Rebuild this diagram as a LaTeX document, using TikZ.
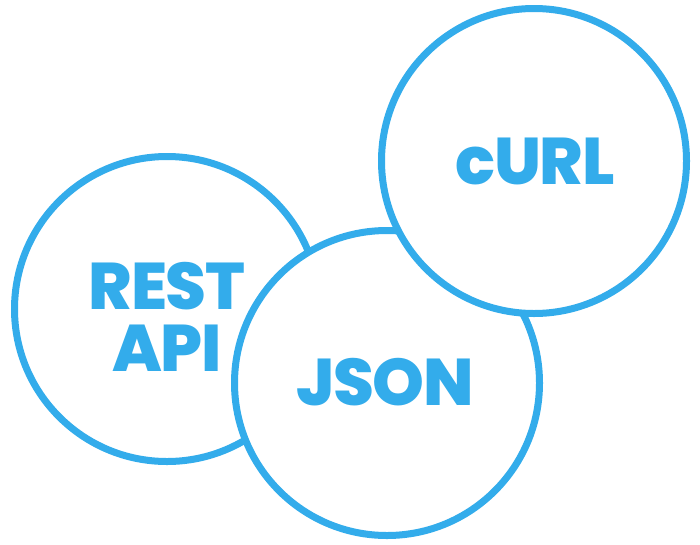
\documentclass[tikz,border=0pt]{standalone}
\usepackage{fontspec}
\setmainfont{Poppins}[BoldFont={Poppins ExtraBold}]
\definecolor{apiblue}{RGB}{51,172,235}

\begin{document}
\begin{tikzpicture}[x=1pt,y=-1pt]

      \useasboundingbox (0,0) rectangle (700,544);

      \begin{scope}[every node/.style={circle,draw=apiblue,line width=7pt,fill=white,minimum size=305pt,inner sep=0pt}]
        \node (rest) at (167,309) {};
        \node (json) at (387,383) {};
        \node (curl) at (534,161) {};
      \end{scope}

      \begin{scope}[every node/.style={text=apiblue,inner sep=0pt,align=center,font=\bfseries\fontsize{66}{62}\selectfont\addfontfeature{LetterSpace=-2}}]
        \node (restlbl) at (167,317) {REST\\API};
        \node (jsonlbl) at (385,382) {JSON};
        \node (curllbl) at (535,161) {cURL};
      \end{scope}

    \end{tikzpicture}
\end{document}
